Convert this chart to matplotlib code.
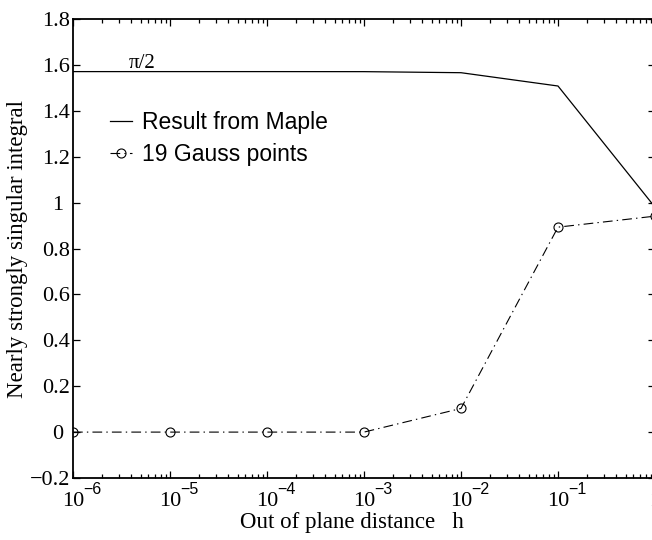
import numpy as np
import matplotlib
matplotlib.use("Agg")
import matplotlib.pyplot as plt
from matplotlib.ticker import LogLocator, FixedLocator, FixedFormatter, NullFormatter

# ---- data ----
h = [1e-6, 1e-5, 1e-4, 1e-3, 1e-2, 1e-1, 1.0]
maple = [1.5708, 1.5708, 1.5708, 1.5706, 1.566, 1.508, 0.98]
gauss = [0.0, 0.0, 0.0, 0.0, 0.103, 0.893, 0.941]
yticks = [-0.2, 0, 0.2, 0.4, 0.6, 0.8, 1, 1.2, 1.4, 1.6, 1.8]
ytick_labels = ["\u22120.2", "0 ", "0.2", "0.4", "0.6", "0.8", "1 ", "1.2", "1.4", "1.6", "1.8"]
xticks = [1e-6, 1e-5, 1e-4, 1e-3, 1e-2, 1e-1, 1.0]
xtick_bases = ["10", "10", "10", "10", "10", "10", "1"]
xtick_exps = ["\u22126", "\u22125", "\u22124", "\u22123", "\u22122", "\u22121", ""]

plt.rcParams["font.family"] = ["Liberation Serif", "DejaVu Serif"]
plt.rcParams["lines.scale_dashes"] = False

W, H = 652, 540
fig = plt.figure(figsize=(W / 100, H / 100), dpi=100)
left, right, top, bottom = 73, 655, 19, 478
ax = fig.add_axes([left / W, (H - bottom) / H, (right - left) / W, (bottom - top) / H])

ax.plot(h, maple, color="black", lw=0.9, label="Result from Maple")
ax.plot(h, gauss, color="black", lw=0.8, linestyle=(0, (7, 3, 1, 3)),
        marker="o", markersize=6.5, markerfacecolor="none", markeredgewidth=0.8,
        label="19 Gauss points")

ax.set_xscale("log")
ax.set_xlim(1e-6, 1.0)
ax.set_ylim(-0.2, 1.8)
ax.xaxis.set_major_locator(FixedLocator(xticks))
ax.xaxis.set_major_formatter(FixedFormatter(xtick_bases))
ax.xaxis.set_minor_locator(LogLocator(base=10, subs=np.arange(2, 10), numticks=20))
ax.xaxis.set_minor_formatter(NullFormatter())
ax.yaxis.set_major_locator(FixedLocator(yticks))
ax.yaxis.set_major_formatter(FixedFormatter(ytick_labels))

ax.tick_params(which="both", direction="in", top=True, right=True, width=0.9)
ax.tick_params(which="major", length=5, labelsize=16)
ax.tick_params(axis="x", which="major", pad=10)
ax.tick_params(axis="y", which="major", pad=2)
ax.tick_params(which="minor", length=3)
for s in ax.spines.values():
    s.set_linewidth(1.3)

# exponents of the x tick labels
for xt, ex in zip(xticks, xtick_exps):
    if ex:
        ax.annotate(ex, xy=(xt, 0), xycoords=ax.get_xaxis_transform(),
                    xytext=(7.2, -11.5), textcoords="offset points",
                    ha="left", va="baseline", fontsize=11.5,
                    family="Liberation Sans", annotation_clip=False)

ax.set_xlabel("Out of plane distance   h", fontsize=16.5, labelpad=1, x=0.479)
ax.set_ylabel("Nearly strongly singular integral", fontsize=16.5, labelpad=1)

ax.text(5.1e-6, 1.605, "\u03c0/2", fontsize=15, ha="center", va="center")

leg = ax.legend(loc="upper left", bbox_to_anchor=(0.0636, 0.799), frameon=False,
                borderpad=0, borderaxespad=0, handlelength=0.95, handletextpad=0.45,
                labelspacing=0.4, prop={"family": "Liberation Sans", "size": 16.5})

fig.savefig("out.png", dpi=100)
